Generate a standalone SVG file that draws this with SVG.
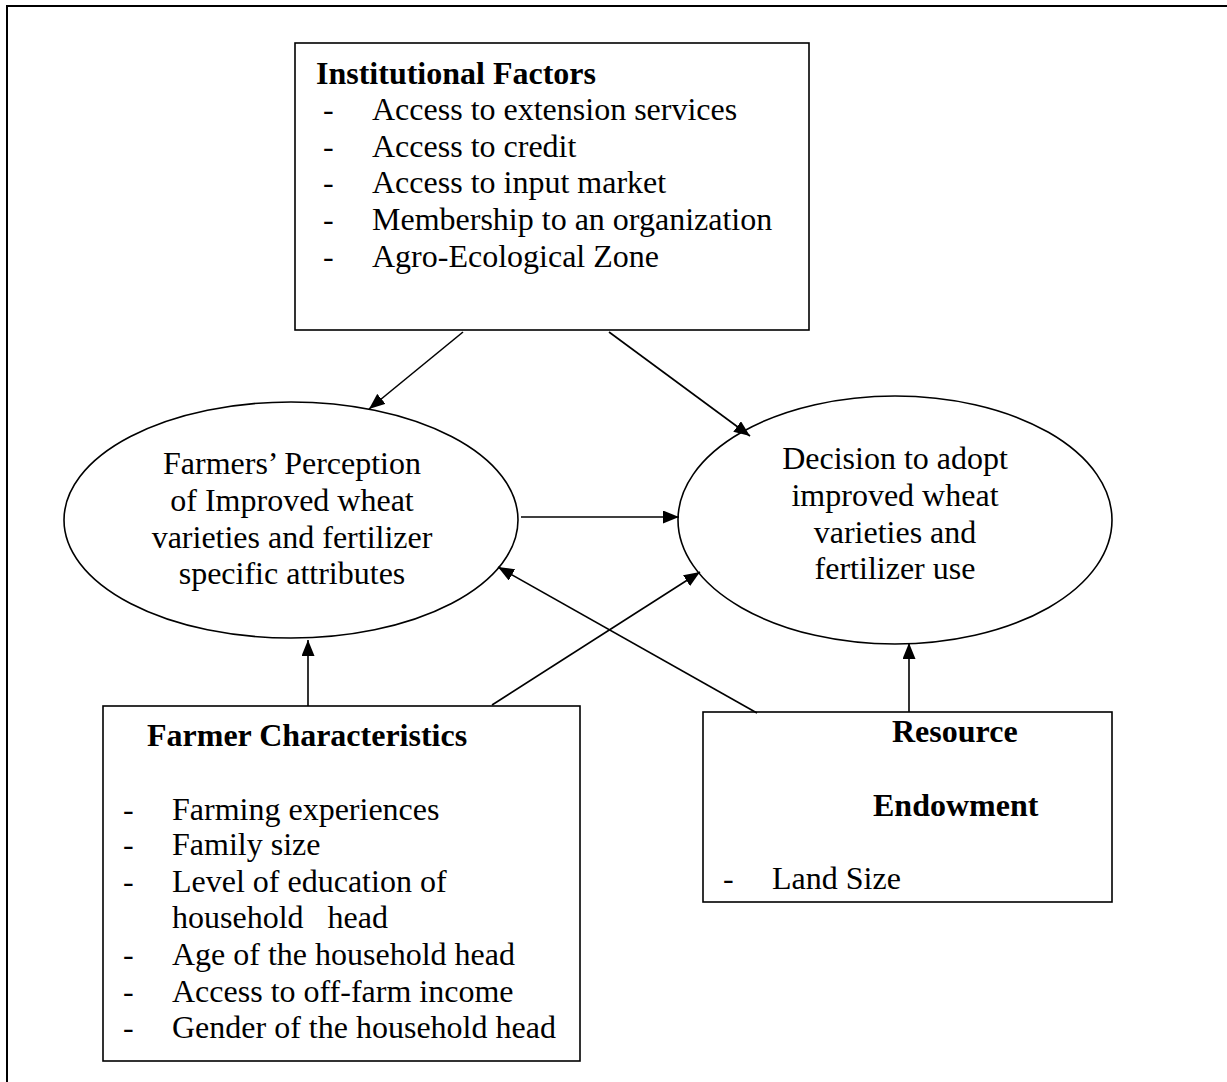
<svg xmlns="http://www.w3.org/2000/svg" width="1227" height="1082" viewBox="0 0 1227 1082">
<style>
text{font-family:"Liberation Serif","Times New Roman",serif;font-size:32px;fill:#000}
.b{font-weight:bold}
.c{text-anchor:middle}
.box{fill:#fff;stroke:#000;stroke-width:1.6}
.conn line{stroke:#000;stroke-width:1.6;marker-end:url(#ah)}
</style>
<defs>
<marker id="ah" markerUnits="userSpaceOnUse" markerWidth="17" markerHeight="13" refX="16" refY="6.5" orient="auto">
<path d="M0,0 L16,6.5 L0,13 z" fill="#000"/>
</marker>
</defs>
<rect width="1227" height="1082" fill="#fff"/>
<path id="frame" d="M7,1082 V6 H1227" fill="none" stroke="#000" stroke-width="2"/>
<g id="institutional">
<rect class="box" x="295" y="43" width="514" height="287"/>
<text class="b" x="316" y="84">Institutional Factors</text>
<text x="323" y="120">-</text><text x="372" y="120">Access to extension services</text>
<text x="323" y="157">-</text><text x="372" y="157">Access to credit</text>
<text x="323" y="193">-</text><text x="372" y="193">Access to input market</text>
<text x="323" y="230">-</text><text x="372" y="230">Membership to an organization</text>
<text x="323" y="267">-</text><text x="372" y="267">Agro-Ecological Zone</text>
</g>
<g id="perception">
<ellipse class="box" cx="291" cy="520" rx="227" ry="118"/>
<text class="c" x="292" y="474">Farmers’ Perception</text>
<text class="c" x="292" y="511">of Improved wheat</text>
<text class="c" x="292" y="548">varieties and fertilizer</text>
<text class="c" x="292" y="584">specific attributes</text>
</g>
<g id="decision">
<ellipse class="box" cx="895" cy="520" rx="217" ry="124"/>
<text class="c" x="895" y="469">Decision to adopt</text>
<text class="c" x="895" y="506">improved wheat</text>
<text class="c" x="895" y="543">varieties and</text>
<text class="c" x="895" y="579">fertilizer use</text>
</g>
<g id="farmer">
<rect class="box" x="103" y="706" width="477" height="355"/>
<text class="b" x="147" y="746">Farmer Characteristics</text>
<text x="123" y="820">-</text><text x="172" y="820">Farming experiences</text>
<text x="123" y="855">-</text><text x="172" y="855">Family size</text>
<text x="123" y="892">-</text><text x="172" y="892">Level of education of</text>
<text x="172" y="928" xml:space="preserve">household   head</text>
<text x="123" y="965">-</text><text x="172" y="965">Age of the household head</text>
<text x="123" y="1002">-</text><text x="172" y="1002">Access to off-farm income</text>
<text x="123" y="1038">-</text><text x="172" y="1038">Gender of the household head</text>
</g>
<g id="resource">
<rect class="box" x="703" y="712" width="409" height="190"/>
<text class="b" x="892" y="742">Resource</text>
<text class="b" x="873" y="816">Endowment</text>
<text x="723" y="889">-</text><text x="772" y="889">Land Size</text>
</g>
<g id="connectors" class="conn">
<line x1="463" y1="332" x2="369" y2="409"/>
<line x1="609" y1="332" x2="750" y2="436"/>
<line x1="521" y1="517" x2="679" y2="517"/>
<line x1="492" y1="705" x2="700" y2="572"/>
<line x1="757" y1="713" x2="498" y2="567"/>
<line x1="308" y1="706" x2="308" y2="640"/>
<line x1="909" y1="712" x2="909" y2="643"/>
</g>
</svg>
